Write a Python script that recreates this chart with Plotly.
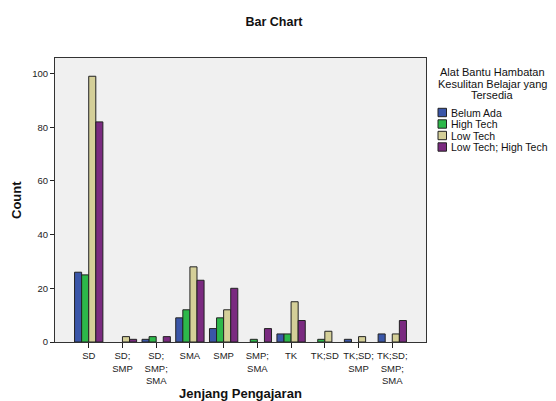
import plotly.graph_objects as go

categories = ["SD", "SD;<br>SMP", "SD;<br>SMP;<br>SMA", "SMA", "SMP", "SMP;<br>SMA", "TK", "TK;SD", "TK;SD;<br>SMP", "TK;SD;<br>SMP;<br>SMA"]
belum_ada = [26, None, 1, 9, 5, None, 3, None, 1, 3]
high_tech = [25, None, 2, 12, 9, 1, 3, 1, None, None]
low_tech = [99, 2, None, 28, 12, None, 15, 4, 2, 3]
low_high_tech = [82, 1, 2, 23, 20, 5, 8, None, None, 8]
series_names = ["Belum Ada", "High Tech", "Low Tech", "Low Tech; High Tech"]
series_values = [belum_ada, high_tech, low_tech, low_high_tech]
colors = ["#3A56A8", "#2DB84A", "#D4CF98", "#7A2A80"]
legend_title_lines = ["Alat Bantu Hambatan", "Kesulitan Belajar yang", "Tersedia"]
y_ticks = [0, 20, 40, 60, 80, 100]
x_title = "Jenjang Pengajaran"
y_title = "Count"

W, H = 556, 401
L, R, T, B = 55, 130, 58, 59
PW, PH = W - L - R, H - T - B


def px_x(px):
    return (px - L) / PW


def px_y(py):
    return (H - B - py) / PH


fig = go.Figure()
for name, vals, col in zip(series_names, series_values, colors):
    fig.add_trace(go.Bar(
        x=list(range(len(categories))), y=vals, name=name,
        marker=dict(color=col, line=dict(color="#222222", width=1)),
    ))

font = "Liberation Sans, Arial, sans-serif"
annotations = []
shapes = []
# legend title
for i, line in enumerate(legend_title_lines):
    annotations.append(dict(
        text=line, x=px_x(492), y=px_y(72 + i * 11.5), xref="paper", yref="paper",
        xanchor="center", yanchor="middle", showarrow=False,
        font=dict(size=11, color="#111111"),
    ))
# legend items
for i, (name, col) in enumerate(zip(series_names, colors)):
    cy = 112.5 + i * 11.5
    shapes.append(dict(
        type="rect", xref="paper", yref="paper",
        x0=px_x(438), x1=px_x(446.5), y0=px_y(cy + 4.2), y1=px_y(cy - 4.2),
        fillcolor=col, line=dict(color="#222222", width=1),
    ))
    annotations.append(dict(
        text=name, x=px_x(448.5), y=px_y(cy), xref="paper", yref="paper",
        xanchor="left", yanchor="middle", showarrow=False,
        font=dict(size=10.5, color="#111111"),
    ))
# axis titles
annotations.append(dict(
    text="<b>%s</b>" % x_title, x=px_x(240.5), y=px_y(393), xref="paper", yref="paper",
    xanchor="center", yanchor="middle", showarrow=False,
    font=dict(size=13, color="#111111"),
))
annotations.append(dict(
    text="<b>%s</b>" % y_title, x=px_x(16), y=px_y(200), xref="paper", yref="paper",
    xanchor="center", yanchor="middle", showarrow=False, textangle=-90,
    font=dict(size=13, color="#111111"),
))

fig.update_layout(
    width=W, height=H,
    margin=dict(l=L, r=R, t=T, b=B),
    paper_bgcolor="white", plot_bgcolor="#F0F0F0",
    barmode="group", bargap=0.16, bargroupgap=0,
    font=dict(family=font, size=10, color="#222222"),
    title=dict(text="<b>Bar Chart</b>", x=274 / W, xref="container", y=1 - 22 / H, yref="container",
               xanchor="center", yanchor="middle", font=dict(size=12.5, color="#111111")),
    showlegend=False,
    xaxis=dict(
        tickmode="array", tickvals=list(range(len(categories))), ticktext=categories,
        range=[-1, len(categories)], ticks="outside", ticklen=5, tickcolor="#222222",
        showline=True, linecolor="#333333", linewidth=1, mirror=True, showgrid=False,
        zeroline=False, tickangle=0, automargin=False,
        tickfont=dict(size=9.5, color="#222222"),
    ),
    yaxis=dict(
        range=[0, 105.8], tickmode="array", tickvals=y_ticks, ticks="outside", ticklen=4,
        tickcolor="#222222", showline=True, linecolor="#333333", linewidth=1, mirror=True,
        showgrid=False, zeroline=False, automargin=False,
        tickfont=dict(size=9.5, color="#222222"),
    ),
    annotations=annotations,
    shapes=shapes,
)

fig.write_html("out.html", config={"displayModeBar": False},
               post_script="document.body.style.margin='0';document.body.style.overflow='hidden';")
